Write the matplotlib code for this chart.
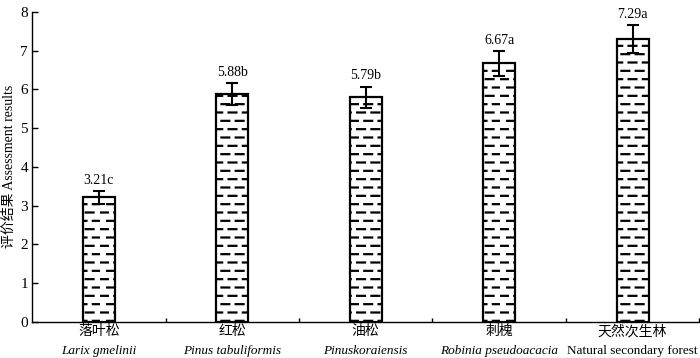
import numpy as np
import matplotlib
matplotlib.use("Agg")
import matplotlib.pyplot as plt
import matplotlib.hatch as mhatch
from matplotlib.path import Path

# data
species_cn = ["落叶松", "红松", "油松", "刺槐", "天然次生林"]
species_latin = ["Larix gmelinii", "Pinus tabuliformis", "Pinuskoraiensis",
                 "Robinia pseudoacacia", "Natural secondary forest"]
latin_italic = [True, True, True, True, False]
scores = [3.21, 5.88, 5.79, 6.67, 7.29]
errors = [0.16, 0.28, 0.28, 0.32, 0.36]
letters = ["c", "b", "b", "a", "a"]


# dashed horizontal hatch ("- -" rows, staggered) in place of the solid '-'
class DashHatch(mhatch.HatchPatternBase):
    rows = 12
    per_row = 7

    def __init__(self, hatch, density):
        if '-' in hatch:
            self.num_vertices = self.rows * self.per_row * 2
        else:
            self.num_vertices = 0

    def set_vertices_and_codes(self, vertices, codes):
        dy = 1.0 / self.rows
        dx = 1.0 / self.per_row
        k = 0
        for r in range(self.rows):
            y = (r + 0.5) * dy
            shift = 0.5 * dx if r % 2 else 0.0
            for c in range(self.per_row):
                x0 = (c * dx + shift) % 1.0
                x1 = x0 + dx * 0.55
                vertices[k] = (x0, y)
                vertices[k + 1] = (x1, y)
                codes[k] = Path.MOVETO
                codes[k + 1] = Path.LINETO
                k += 2


mhatch._hatch_types = [DashHatch if t is mhatch.HorizontalHatch else t
                       for t in mhatch._hatch_types]

plt.rcParams['font.family'] = ['Liberation Serif', 'Noto Sans CJK SC']
plt.rcParams['hatch.linewidth'] = 1.6
plt.rcParams['hatch.color'] = 'black'

fig = plt.figure(figsize=(7, 3.58), dpi=100)
ax = fig.add_axes([0.046, 0.101, 0.953, 0.866])

x = np.arange(len(scores))
ax.bar(x, scores, width=0.24, color='white', edgecolor='black',
       linewidth=1.6, hatch='-', zorder=2)
ax.errorbar(x, scores, yerr=errors, fmt='none', ecolor='black',
            elinewidth=1.5, capsize=4, capthick=1.5, zorder=3)

for xi, s, e, l in zip(x, scores, errors, letters):
    ax.annotate(f"{s:.2f}{l}", (xi, s + e), xytext=(0, 3),
                textcoords='offset points', ha='center', va='bottom',
                fontsize=10)

ax.set_xlim(-0.5, len(scores) - 0.5)
ax.set_ylim(0, 8)
ax.set_yticks(range(0, 9))
ax.set_xticks(x)
ax.set_xticklabels(species_cn, fontsize=10)
ax.set_xticks(np.arange(len(scores)) + 0.5, minor=True)
ax.tick_params(axis='x', which='major', length=0, pad=2)
ax.tick_params(axis='x', which='minor', direction='in', length=3, width=1)
ax.tick_params(axis='y', direction='in', length=4, width=1, labelsize=11, pad=3)

for xi, name, it in zip(x, species_latin, latin_italic):
    ax.annotate(name, (xi, 0), xycoords=('data', 'axes fraction'),
                xytext=(0, -16.5), textcoords='offset points',
                ha='center', va='top', fontsize=9.5,
                style='italic' if it else 'normal')

ax.set_ylabel("评价结果 Assessment results", fontsize=10, labelpad=3)

for side in ['top', 'right']:
    ax.spines[side].set_visible(False)
for side in ['left', 'bottom']:
    ax.spines[side].set_linewidth(1.0)

fig.savefig("out.png", dpi=100)
